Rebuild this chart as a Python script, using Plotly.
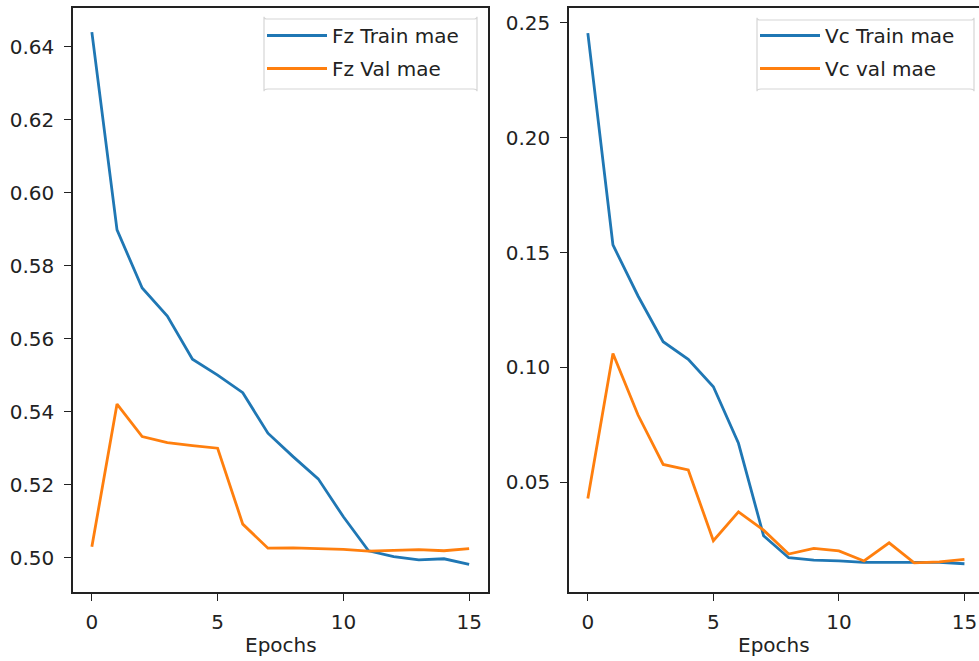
import plotly.graph_objects as go

epochs = list(range(16))

fz_train_mae = [0.644, 0.5898, 0.5739, 0.5662, 0.5544, 0.5500, 0.5452, 0.5341,
                0.5277, 0.5216, 0.5112, 0.5019, 0.5003, 0.4994, 0.4997, 0.4982]
fz_val_mae = [0.5030, 0.5421, 0.5332, 0.5315, 0.5307, 0.5300, 0.5092, 0.5026,
              0.5027, 0.5026, 0.5023, 0.5018, 0.5019, 0.5022, 0.5019, 0.5025]

vc_train_mae = [0.2455, 0.1533, 0.1311, 0.1112, 0.1035, 0.0916, 0.0670, 0.0268,
                0.0172, 0.0162, 0.0158, 0.0152, 0.0152, 0.0152, 0.0152, 0.0146]
vc_val_mae = [0.0430, 0.1061, 0.0793, 0.0578, 0.0554, 0.0246, 0.0372, 0.0292,
              0.0188, 0.0213, 0.0202, 0.0158, 0.0237, 0.0150, 0.0154, 0.0165]

fz_ticks = [0.50, 0.52, 0.54, 0.56, 0.58, 0.60, 0.62, 0.64]
vc_ticks = [0.05, 0.10, 0.15, 0.20, 0.25]
x_ticks = [0, 5, 10, 15]

BLUE = "#1f77b4"
ORANGE = "#ff7f0e"
FONT = "DejaVu Sans"
W, H = 979, 661
TOP, BOT = 8, 592
PH = BOT - TOP


def px_x(p):
    return p / W


def px_y(p):
    return 1 - (p - TOP) / PH


fig = go.Figure()
fig.add_trace(go.Scatter(x=epochs, y=fz_train_mae, mode="lines", name="Fz Train mae",
                         line=dict(color=BLUE, width=2.8), xaxis="x", yaxis="y",
                         legend="legend", legendgroup="a"))
fig.add_trace(go.Scatter(x=epochs, y=fz_val_mae, mode="lines", name="Fz Val mae",
                         line=dict(color=ORANGE, width=2.8), xaxis="x", yaxis="y",
                         legend="legend", legendgroup="b"))
fig.add_trace(go.Scatter(x=epochs, y=vc_train_mae, mode="lines", name="Vc Train mae",
                         line=dict(color=BLUE, width=2.8), xaxis="x2", yaxis="y2",
                         legend="legend2", legendgroup="c"))
fig.add_trace(go.Scatter(x=epochs, y=vc_val_mae, mode="lines", name="Vc val mae",
                         line=dict(color=ORANGE, width=2.8), xaxis="x2", yaxis="y2",
                         legend="legend2", legendgroup="d"))

axis_common = dict(showgrid=False, zeroline=False, showline=True, linecolor="#222",
                   linewidth=1.6, ticks="outside", ticklen=7, tickwidth=1.4, tickcolor="#222",
                   tickfont=dict(family=FONT, size=20, color="#222"))

legend_common = dict(bgcolor="rgba(0,0,0,0)", borderwidth=0, itemwidth=60,
                     tracegroupgap=4, yanchor="top", xanchor="left",
                     font=dict(family=FONT, size=20, color="#222"))

fig.update_layout(
    width=W, height=H,
    margin=dict(l=0, r=0, t=TOP, b=H - BOT),
    paper_bgcolor="white", plot_bgcolor="white",
    font=dict(family=FONT, size=20, color="#222"),
    xaxis=dict(domain=[73 / W, 488 / W], range=[-0.75, 15.75], tickvals=x_ticks,
               mirror=True, ticklabelstandoff=4, anchor="y", **axis_common),
    yaxis=dict(domain=[0, 1], range=[0.4906, 0.6506], tickvals=fz_ticks, tickformat=".2f",
               mirror=True, ticklabelstandoff=6, anchor="x", **axis_common),
    xaxis2=dict(domain=[569 / W, 1.0], range=[-0.75, 15.58], tickvals=x_ticks,
                mirror=True, ticklabelstandoff=4, anchor="y2", **axis_common),
    yaxis2=dict(domain=[0, 1], range=[0.0023, 0.2564], tickvals=vc_ticks, tickformat=".2f",
                mirror=False, ticklabelstandoff=6, anchor="x2", **axis_common),
    legend=dict(x=px_x(262), y=px_y(16), **legend_common),
    legend2=dict(x=px_x(755), y=px_y(16), **legend_common),
    showlegend=True,
)


def rounded_box(x0, y0, x1, y1, r=4):
    return (f"M{x0 + r},{y0} L{x1 - r},{y0} Q{x1},{y0} {x1},{y0 + r} "
            f"L{x1},{y1 - r} Q{x1},{y1} {x1 - r},{y1} L{x0 + r},{y1} "
            f"Q{x0},{y1} {x0},{y1 - r} L{x0},{y0 + r} Q{x0},{y0} {x0 + r},{y0} Z")


for (bx0, by0, bx1, by1) in [(264, 19, 477, 89), (757, 20, 974, 89)]:
    fig.add_shape(type="path", xref="paper", yref="paper",
                  path=rounded_box(px_x(bx0), px_y(by0), px_x(bx1), px_y(by1), r=0.004),
                  line=dict(color="#d6d6d6", width=1.2), fillcolor="rgba(255,255,255,0.8)",
                  layer="above")

for xref, yref in [("x domain", "y domain"), ("x2 domain", "y2 domain")]:
    fig.add_annotation(text="Epochs", x=0.5, y=0, xref=xref, yref=yref,
                       xanchor="center", yanchor="middle", yshift=-53, showarrow=False,
                       font=dict(family=FONT, size=20, color="#222"))

fig.write_html("out.html", config={"displayModeBar": False},
               post_script="document.body.style.margin='0';")
